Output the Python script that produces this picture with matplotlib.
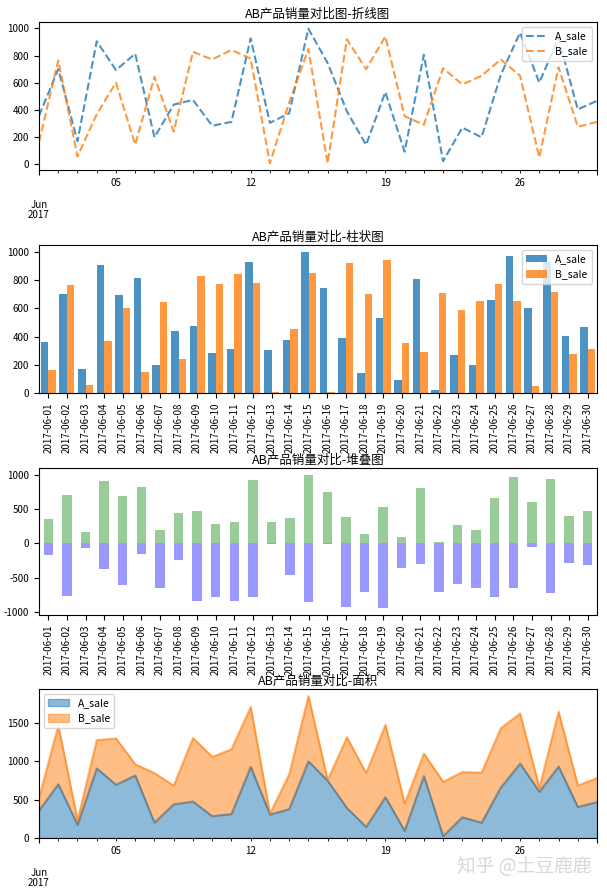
import numpy as np
import pandas as pd
import matplotlib
matplotlib.use("Agg")
import matplotlib.pyplot as plt

plt.rcParams['font.family'] = ['Noto Sans CJK SC', 'DejaVu Sans']
plt.rcParams['axes.unicode_minus'] = False
plt.rcParams['font.size'] = 7
plt.rcParams['xtick.labelsize'] = 7
plt.rcParams['ytick.labelsize'] = 7

dates = pd.date_range('2017-06-01', '2017-06-30', freq='D')
date_labels = [d.strftime('%Y-%m-%d') for d in dates]
A_sale = [358, 701, 172, 906, 694, 814, 200, 440, 475, 285, 313, 927, 306, 376, 998,
          746, 391, 144, 532, 94, 807, 24, 271, 200, 659, 969, 602, 930, 405, 468]
B_sale = [165, 765, 59, 369, 602, 146, 645, 242, 828, 772, 842, 779, 9, 454, 849,
          9, 920, 701, 941, 355, 292, 708, 588, 652, 772, 652, 52, 715, 278, 313]
series_names = ['A_sale', 'B_sale']
titles = ['AB产品销量对比图-折线图', 'AB产品销量对比-柱状图', 'AB产品销量对比-堆叠图', 'AB产品销量对比-面积']

df = pd.DataFrame({series_names[0]: A_sale, series_names[1]: B_sale}, index=dates)

W, H = 607, 888
fig = plt.figure(figsize=(W / 100, H / 100), dpi=100)

def axpos(top, bottom, left=39, right=597):
    return [left / W, 1 - bottom / H, (right - left) / W, (bottom - top) / H]

title_fs = 9

def tighten_date_labels(ax):
    fig.canvas.draw()
    for lab in ax.get_xticklabels(minor=True) + ax.get_xticklabels():
        lab.set_linespacing(1.0)

# 1. line chart
ax1 = fig.add_axes(axpos(22, 170))
df.plot(ax=ax1, style='--', alpha=0.8)
ax1.set_title(titles[0], fontsize=title_fs, pad=3)
ax1.legend(loc='upper right', fontsize=7.5)
ax1.set_xlabel('')

# 2. grouped bar chart
x = np.arange(len(dates))
ax2 = fig.add_axes(axpos(245, 393))
ax2.bar(x - 0.2, A_sale, 0.4, color='#1f77b4', alpha=0.8, label=series_names[0])
ax2.bar(x + 0.2, B_sale, 0.4, color='#ff7f0e', alpha=0.8, label=series_names[1])
ax2.set_xlim(-0.5, len(dates) - 0.5)
ax2.set_xticks(x)
ax2.set_xticklabels(date_labels, rotation=90)
ax2.set_title(titles[1], fontsize=title_fs, pad=3)
ax2.legend(loc='upper right', fontsize=7.5)

# 3. stacked (positive / negative) bar chart
ax3 = fig.add_axes(axpos(468, 615))
ax3.bar(x, A_sale, 0.5, color='g', alpha=0.4)
ax3.bar(x, -np.array(B_sale), 0.5, color='b', alpha=0.4)
ax3.set_xlim(-0.5, len(dates) - 0.5)
ax3.set_xticks(x)
ax3.set_xticklabels(date_labels, rotation=90)
ax3.set_title(titles[2], fontsize=title_fs, pad=3)

# 4. area chart
ax4 = fig.add_axes(axpos(689, 838))
df.plot.area(ax=ax4, alpha=0.5)
ax4.set_title(titles[3], fontsize=title_fs, pad=3)
ax4.legend(loc='upper left', fontsize=7.5)
ax4.set_xlabel('')

tighten_date_labels(ax1)
tighten_date_labels(ax4)

# watermark
fig.text(0.975, 0.024, '知乎 @土豆鹿鹿', ha='right', va='center', fontsize=13.5,
         color='#d8d8d8')

fig.savefig('out.png', dpi=100)
